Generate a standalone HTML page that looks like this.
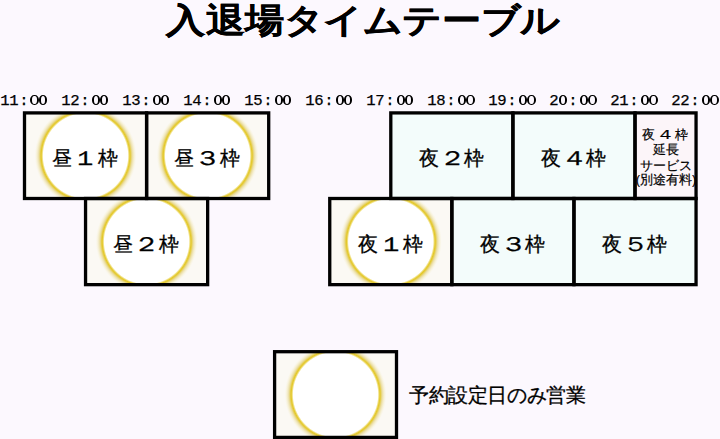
<!DOCTYPE html>
<html><head><meta charset="utf-8"><style>
html,body{margin:0;padding:0;}
body{width:720px;height:439px;background:#fcf8fe;position:relative;overflow:hidden;font-family:"Liberation Sans",sans-serif;color:#000;}
svg{position:absolute;left:0;top:0;}
.tt{position:absolute;top:-4px;transform:scaleY(0.87);-webkit-text-stroke:0.4px #000;width:50px;text-align:center;font-size:39px;line-height:50px;font-weight:bold;white-space:nowrap;}
.tc{position:absolute;top:94.3px;width:12px;text-align:center;font-family:"Liberation Mono",monospace;font-size:14.2px;line-height:14px;white-space:nowrap;transform:scaleX(1.1);-webkit-text-stroke:0.25px #000;}
.z{position:absolute;top:95.2px;width:8.3px;height:9.4px;box-sizing:border-box;border:solid #000;border-width:1.5px 2.1px;border-radius:50%;}
.ch{position:absolute;width:40px;height:30px;line-height:30px;text-align:center;font-size:19.5px;-webkit-text-stroke:0.3px #000;white-space:nowrap;}
.ch.n{transform:scaleX(1.35);}
.ext{position:absolute;left:626px;width:80px;text-align:center;font-size:13px;line-height:15.5px;-webkit-text-stroke:0.2px #000;white-space:nowrap;}
.leg{position:absolute;left:409px;top:382px;font-size:19.5px;letter-spacing:-0.4px;-webkit-text-stroke:0.3px #000;white-space:nowrap;}
</style></head><body>
<svg width="720" height="439" viewBox="0 0 720 439">
<defs>
<radialGradient id="rg" gradientUnits="objectBoundingBox" cx="0.5" cy="0.5" r="0.5"><stop offset="0" stop-color="#fff" stop-opacity="1"/><stop offset="0.8274509803921569" stop-color="#fff" stop-opacity="1"/><stop offset="0.8509803921568627" stop-color="#eedc70" stop-opacity="1"/><stop offset="0.8686274509803921" stop-color="#e3c72a" stop-opacity="1"/><stop offset="0.8862745098039216" stop-color="#e4ca3a" stop-opacity="0.92"/><stop offset="0.9137254901960784" stop-color="#e2d07a" stop-opacity="0.7"/><stop offset="0.9509803921568627" stop-color="#eee2a8" stop-opacity="0.45"/><stop offset="0.988235294117647" stop-color="#f6f0d0" stop-opacity="0.12"/><stop offset="1" stop-color="#f6f0d0" stop-opacity="0"/></radialGradient>
<clipPath id="c0"><rect x="24.50" y="112.90" width="122.10" height="85.60"/></clipPath><clipPath id="c1"><rect x="146.60" y="112.90" width="122.10" height="85.60"/></clipPath><clipPath id="c2"><rect x="85.55" y="198.50" width="122.10" height="86.15"/></clipPath><clipPath id="c6"><rect x="329.75" y="198.50" width="122.10" height="86.15"/></clipPath><clipPath id="cl"><rect x="274.6" y="351.7" width="121.90" height="85.70"/></clipPath>
</defs>
<rect x="24.50" y="112.90" width="122.10" height="85.60" fill="#fbf9f4"/><rect x="146.60" y="112.90" width="122.10" height="85.60" fill="#fbf9f4"/><rect x="85.55" y="198.50" width="122.10" height="86.15" fill="#fbf9f4"/><rect x="390.80" y="112.90" width="122.10" height="85.60" fill="#f3fcfb"/><rect x="512.90" y="112.90" width="122.10" height="85.60" fill="#f3fcfb"/><rect x="635.00" y="112.90" width="61.05" height="85.60" fill="#fcf5f9"/><rect x="329.75" y="198.50" width="122.10" height="86.15" fill="#fbf9f4"/><rect x="451.85" y="198.50" width="122.10" height="86.15" fill="#f3fcfb"/><rect x="573.95" y="198.50" width="122.10" height="86.15" fill="#f3fcfb"/><rect x="274.6" y="351.7" width="121.90" height="85.70" fill="#fbf9f4"/>
<circle cx="85.55" cy="155.70" r="51" fill="url(#rg)" clip-path="url(#c0)"/><circle cx="207.65" cy="155.70" r="51" fill="url(#rg)" clip-path="url(#c1)"/><circle cx="146.60" cy="241.57" r="51" fill="url(#rg)" clip-path="url(#c2)"/><circle cx="390.80" cy="241.57" r="51" fill="url(#rg)" clip-path="url(#c6)"/><circle cx="335.55" cy="394.55" r="51" fill="url(#rg)" clip-path="url(#cl)"/>
<rect x="24.50" y="112.90" width="122.10" height="85.60" fill="none" stroke="#000" stroke-width="3.3"/><rect x="146.60" y="112.90" width="122.10" height="85.60" fill="none" stroke="#000" stroke-width="3.3"/><rect x="85.55" y="198.50" width="122.10" height="86.15" fill="none" stroke="#000" stroke-width="3.3"/><rect x="390.80" y="112.90" width="122.10" height="85.60" fill="none" stroke="#000" stroke-width="3.3"/><rect x="512.90" y="112.90" width="122.10" height="85.60" fill="none" stroke="#000" stroke-width="3.3"/><rect x="635.00" y="112.90" width="61.05" height="85.60" fill="none" stroke="#000" stroke-width="3.3"/><rect x="329.75" y="198.50" width="122.10" height="86.15" fill="none" stroke="#000" stroke-width="3.3"/><rect x="451.85" y="198.50" width="122.10" height="86.15" fill="none" stroke="#000" stroke-width="3.3"/><rect x="573.95" y="198.50" width="122.10" height="86.15" fill="none" stroke="#000" stroke-width="3.3"/><rect x="274.6" y="351.7" width="121.90" height="85.70" fill="none" stroke="#000" stroke-width="3.3"/>
</svg>
<div class="tt" style="left:160.70px">入</div><div class="tt" style="left:200.10px">退</div><div class="tt" style="left:239.50px">場</div><div class="tt" style="left:278.90px">タ</div><div class="tt" style="left:318.30px">イ</div><div class="tt" style="left:357.70px">ム</div><div class="tt" style="left:397.10px">テ</div><div class="tt" style="left:436.50px">ー</div><div class="tt" style="left:475.90px">ブ</div><div class="tt" style="left:515.30px">ル</div>
<div class="tc" style="left:-1.45px">1</div><div class="tc" style="left:7.65px">1</div><div class="tc" style="left:17.90px">:</div><div class="z" style="left:30.45px"></div><div class="z" style="left:38.90px"></div><div class="tc" style="left:59.60px">1</div><div class="tc" style="left:68.70px">2</div><div class="tc" style="left:78.95px">:</div><div class="z" style="left:91.50px"></div><div class="z" style="left:99.95px"></div><div class="tc" style="left:120.65px">1</div><div class="tc" style="left:129.75px">3</div><div class="tc" style="left:140.00px">:</div><div class="z" style="left:152.55px"></div><div class="z" style="left:161.00px"></div><div class="tc" style="left:181.70px">1</div><div class="tc" style="left:190.80px">4</div><div class="tc" style="left:201.05px">:</div><div class="z" style="left:213.60px"></div><div class="z" style="left:222.05px"></div><div class="tc" style="left:242.75px">1</div><div class="tc" style="left:251.85px">5</div><div class="tc" style="left:262.10px">:</div><div class="z" style="left:274.65px"></div><div class="z" style="left:283.10px"></div><div class="tc" style="left:303.80px">1</div><div class="tc" style="left:312.90px">6</div><div class="tc" style="left:323.15px">:</div><div class="z" style="left:335.70px"></div><div class="z" style="left:344.15px"></div><div class="tc" style="left:364.85px">1</div><div class="tc" style="left:373.95px">7</div><div class="tc" style="left:384.20px">:</div><div class="z" style="left:396.75px"></div><div class="z" style="left:405.20px"></div><div class="tc" style="left:425.90px">1</div><div class="tc" style="left:435.00px">8</div><div class="tc" style="left:445.25px">:</div><div class="z" style="left:457.80px"></div><div class="z" style="left:466.25px"></div><div class="tc" style="left:486.95px">1</div><div class="tc" style="left:496.05px">9</div><div class="tc" style="left:506.30px">:</div><div class="z" style="left:518.85px"></div><div class="z" style="left:527.30px"></div><div class="tc" style="left:548.00px">2</div><div class="z" style="left:558.95px"></div><div class="tc" style="left:567.35px">:</div><div class="z" style="left:579.90px"></div><div class="z" style="left:588.35px"></div><div class="tc" style="left:609.05px">2</div><div class="tc" style="left:618.15px">1</div><div class="tc" style="left:628.40px">:</div><div class="z" style="left:640.95px"></div><div class="z" style="left:649.40px"></div><div class="tc" style="left:670.10px">2</div><div class="tc" style="left:679.20px">2</div><div class="tc" style="left:689.45px">:</div><div class="z" style="left:702.00px"></div><div class="z" style="left:710.45px"></div>
<div class="ch k" style="left:42.25px;top:143.00px">昼</div><div class="ch n" style="left:65.35px;top:143.00px">１</div><div class="ch k" style="left:87.80px;top:143.00px">枠</div><div class="ch k" style="left:164.35px;top:143.00px">昼</div><div class="ch n" style="left:187.45px;top:143.00px">３</div><div class="ch k" style="left:209.90px;top:143.00px">枠</div><div class="ch k" style="left:103.30px;top:228.88px">昼</div><div class="ch n" style="left:126.40px;top:228.88px">２</div><div class="ch k" style="left:148.85px;top:228.88px">枠</div><div class="ch k" style="left:408.55px;top:143.00px">夜</div><div class="ch n" style="left:431.65px;top:143.00px">２</div><div class="ch k" style="left:454.10px;top:143.00px">枠</div><div class="ch k" style="left:530.65px;top:143.00px">夜</div><div class="ch n" style="left:553.75px;top:143.00px">４</div><div class="ch k" style="left:576.20px;top:143.00px">枠</div><div class="ch k" style="left:347.50px;top:228.88px">夜</div><div class="ch n" style="left:370.60px;top:228.88px">１</div><div class="ch k" style="left:393.05px;top:228.88px">枠</div><div class="ch k" style="left:469.60px;top:228.88px">夜</div><div class="ch n" style="left:492.70px;top:228.88px">３</div><div class="ch k" style="left:515.15px;top:228.88px">枠</div><div class="ch k" style="left:591.70px;top:228.88px">夜</div><div class="ch n" style="left:614.80px;top:228.88px">５</div><div class="ch k" style="left:637.25px;top:228.88px">枠</div>
<div class="ext" style="top:127px;letter-spacing:2.9px;text-indent:1.5px">夜<span style="display:inline-block;transform:scaleX(1.45)">４</span>枠</div>
<div class="ext" style="top:142px">延長</div>
<div class="ext" style="top:157.5px">サービス</div>
<div class="ext" style="top:172px">(別途有料)</div>
<div class="leg">予約設定日のみ営業</div>
</body></html>
